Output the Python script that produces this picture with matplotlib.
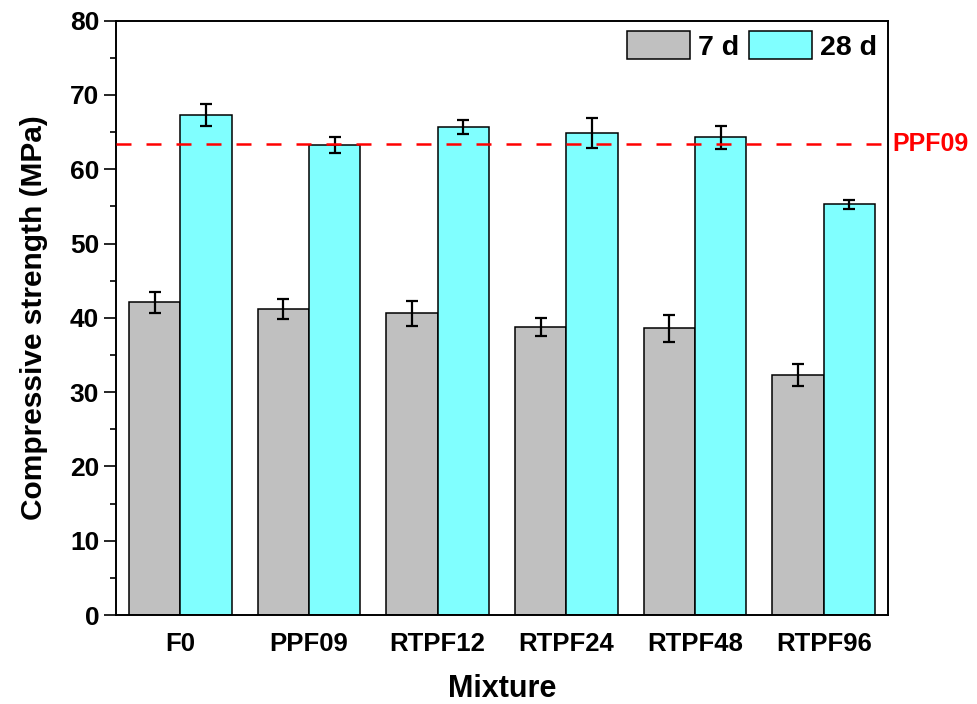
#import
import matplotlib
matplotlib.use("Agg")
import matplotlib.pyplot as plt
from matplotlib.ticker import MultipleLocator
import numpy as np

plt.rcParams['font.family'] = ['Liberation Sans', 'DejaVu Sans']
plt.rcParams['font.weight'] = 'bold'

#data
mixtures = ["F0", "PPF09", "RTPF12", "RTPF24", "RTPF48", "RTPF96"]
strength_7d = [42.1, 41.2, 40.6, 38.8, 38.6, 32.3]
err_7d = [1.4, 1.3, 1.7, 1.2, 1.85, 1.5]
strength_28d = [67.3, 63.3, 65.7, 64.9, 64.3, 55.3]
err_28d = [1.5, 1.1, 1.0, 2.0, 1.55, 0.6]
ppf09_ref = 63.4

#plot
fig = plt.figure(figsize=(9.77, 7.04), dpi=100)
ax = fig.add_axes([0.1187, 0.1264, 0.7902, 0.8442])

x = np.arange(1, len(mixtures) + 1)
w = 0.4
err_kw = dict(ecolor='black', elinewidth=1.6, capsize=4.4, capthick=1.6)
ax.bar(x - w / 2, strength_7d, w, yerr=err_7d, color='#C0C0C0', edgecolor='black',
       linewidth=1.1, label='7 d', error_kw=err_kw, zorder=2)
ax.bar(x + w / 2, strength_28d, w, yerr=err_28d, color='#80FFFF', edgecolor='black',
       linewidth=1.1, label='28 d', error_kw=err_kw, zorder=2)

ax.axhline(ppf09_ref, color='red', lw=1.8, linestyle=(0, (6, 6)), zorder=3)
ax.text(1.006, ppf09_ref, "PPF09", color='red', fontsize=18, fontweight='bold',
        va='center', ha='left', transform=ax.get_yaxis_transform(), clip_on=False)

#axes
ax.set_xlim(0.5, 6.5)
ax.set_ylim(0, 80)
ax.set_xticks(x)
ax.set_xticklabels(mixtures)
ax.yaxis.set_major_locator(MultipleLocator(10))
ax.yaxis.set_minor_locator(MultipleLocator(5))
ax.tick_params(axis='y', which='major', direction='out', length=8.6, width=1.2, labelsize=19)
ax.tick_params(axis='y', which='minor', direction='out', length=4.3, width=1.2)
ax.tick_params(axis='x', length=0, labelsize=18.5, pad=12)
for s in ax.spines.values():
    s.set_linewidth(1.4)

ax.set_xlabel("Mixture", fontsize=22, fontweight='bold', labelpad=13)
ax.set_ylabel("Compressive strength (MPa)", fontsize=21.5, fontweight='bold', labelpad=16)

ax.legend(loc='upper right', ncol=2, frameon=False, fontsize=20.5,
          handlelength=2.2, handleheight=1.15, handletextpad=0.3,
          columnspacing=0.35, borderaxespad=0.12, borderpad=0.25)

#save
fig.savefig("out.png", dpi=100)
